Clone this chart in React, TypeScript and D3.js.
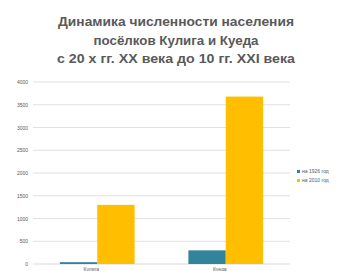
import React from "react";
import * as d3 from "d3";

const titleLines = [
  "Динамика численности населения",
  "посёлков Кулига и Куеда",
  "с 20 х гг. XX века до 10 гг. XXI века",
];
const titleWidths = [236, 165, 238];
const categories = ["Кулига", "Куеда"];
const seriesNames = ["на 1926 год", "на 2010 год"];
const series1926 = [40, 300];
const series2010 = [1300, 3680];
const yTicks = [0, 500, 1000, 1500, 2000, 2500, 3000, 3500, 4000];
const colors = ["#31849b", "#ffbf00"];

const App = () => {
  const width = 343;
  const height = 271;
  const left = 33;
  const right = 290;
  const top = 82;
  const bottom = 264;

  const x = d3.scaleBand().domain(categories).range([left, right]).paddingInner(0).paddingOuter(0);
  const inner = d3
    .scaleBand()
    .domain(seriesNames)
    .range([0, x.bandwidth()])
    .paddingInner(0)
    .paddingOuter(0.72);
  const y = d3.scaleLinear().domain([0, 4000]).range([bottom, top]);
  const values = [series1926, series2010];

  return (
    <svg
      width={width}
      height={height}
      style={{ position: "absolute", left: 0, top: 0, fontFamily: "Liberation Sans, Arial, sans-serif" }}
    >
      <rect width={width} height={height} fill="#fff" />
      {titleLines.map((t, i) => (
        <text
          key={i}
          x={176}
          y={26 + i * 18.5}
          textAnchor="middle"
          fontSize="12.5"
          fontWeight="600"
          fill="#595959"
          textLength={titleWidths[i]}
          lengthAdjust="spacingAndGlyphs"
        >
          {t}
        </text>
      ))}
      <g>
        {yTicks.map((t) => (
          <g key={t}>
            <line x1={left} x2={right} y1={y(t)} y2={y(t)} stroke="#d9d9d9" strokeWidth={t === 0 ? 1 : 0.8} />
            <text x={left - 5} y={y(t) + 2} textAnchor="end" fontSize="5" fill="#595959">
              {t}
            </text>
          </g>
        ))}
      </g>
      <g>
        {categories.map((c, ci) =>
          seriesNames.map((s, si) => (
            <rect
              key={c + s}
              x={(x(c) as number) + (inner(s) as number)}
              y={y(values[si][ci])}
              width={inner.bandwidth()}
              height={bottom - y(values[si][ci])}
              fill={colors[si]}
            />
          ))
        )}
      </g>
      {categories.map((c) => (
        <text
          key={c}
          x={(x(c) as number) + x.bandwidth() / 2 - 6}
          y={bottom + 7}
          textAnchor="middle"
          fontSize="5"
          fill="#595959"
        >
          {c}
        </text>
      ))}
      <g>
        {seriesNames.map((s, i) => (
          <g key={s} transform={`translate(297,${173 + i * 9})`}>
            <rect x={0} y={-3} width={3} height={3} fill={colors[i]} />
            <text x={5} y={0} fontSize="5" fill="#595959">
              {s}
            </text>
          </g>
        ))}
      </g>
    </svg>
  );
};

export default App;
